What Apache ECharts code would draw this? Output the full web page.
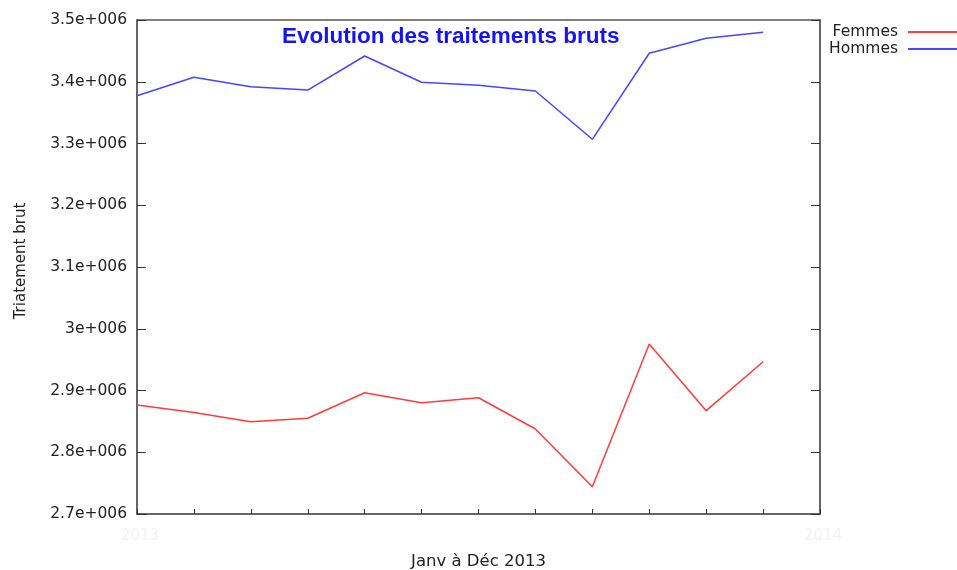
<!DOCTYPE html>
<html>
<head>
<meta charset="utf-8">
<title>Evolution des traitements bruts</title>
<script src="https://cdn.jsdelivr.net/npm/echarts@6/dist/echarts.min.js"></script>
<style>
  html, body { margin: 0; padding: 0; background: #fff; }
  #chart { width: 957px; height: 570px; }
</style>
</head>
<body>
<div id="chart"></div>
<script>
// mois de l'année (axe x), une case de plus pour fermer le cadre
const months = ['Janv', 'Févr', 'Mars', 'Avr', 'Mai', 'Juin', 'Juil', 'Août', 'Sept', 'Oct', 'Nov', 'Déc']
const edgeLabels = ['2013', '2014']

// traitements bruts
const femmes = [2876500, 2864400, 2849500, 2855000, 2896400, 2880200, 2888300, 2837600, 2744200, 2975300, 2867300, 2946600]
const hommes = [3377400, 3407200, 3392000, 3386600, 3441700, 3399100, 3394200, 3385000, 3306800, 3446100, 3470400, 3480100]

// axe y
const yMin = 2700000
const yMax = 3500000
const yStep = 100000

const categories = months.concat([''])
const font = 'DejaVu Sans, Verdana, sans-serif'

const chart = echarts.init(document.getElementById('chart'))
chart.setOption({
  animation: false,
  /* titre */
  title: {
    text: 'Evolution des traitements bruts',
    left: 282,
    top: 25,
    padding: 0,
    textStyle: {
      color: '#1414f5',
      fontFamily: 'Liberation Sans, Arial, sans-serif',
      fontWeight: 'bold',
      fontSize: 22.5
    }
  },
  /* légende : texte puis trait */
  legend: {
    orient: 'vertical',
    align: 'right',
    right: 0,
    top: 24,
    padding: 0,
    itemGap: 1,
    itemWidth: 49,
    itemHeight: 2,
    icon: 'rect',
    textStyle: { color: '#222', fontFamily: font, fontSize: 15.5, padding: [0, 5, 0, 0] },
    data: ['Femmes', 'Hommes']
  },
  grid: { left: 137, right: 137, top: 20, bottom: 56, outerBoundsMode: 'none' },
  xAxis: [
    {
      type: 'category',
      data: categories,
      boundaryGap: false,
      name: 'Janv à Déc 2013',
      nameLocation: 'middle',
      nameGap: 39,
      nameTextStyle: { color: '#222', fontFamily: font, fontSize: 16.5 },
      axisLine: { lineStyle: { color: '#333', width: 1.5 } },
      axisTick: { inside: true, length: 5, lineStyle: { color: '#333' } },
      axisLabel: {
        interval: 0,
        margin: 15,
        color: '#f2f2f2',
        fontFamily: font,
        fontSize: 15,
        padding: [0, 0, 0, 6],
        formatter: (v, i) => (i === 0 ? edgeLabels[0] : i === categories.length - 1 ? edgeLabels[1] : '')
      },
      splitLine: { show: false }
    },
    {
      type: 'category',
      data: categories,
      boundaryGap: false,
      position: 'top',
      axisLine: { lineStyle: { color: '#555', width: 1.5 } },
      axisTick: { show: false },
      axisLabel: { show: false }
    }
  ],
  yAxis: [
    {
      type: 'value',
      min: yMin,
      max: yMax,
      interval: yStep,
      name: 'Triatement brut',
      nameLocation: 'middle',
      nameGap: 108,
      nameRotate: 90,
      nameTextStyle: { color: '#222', fontFamily: font, fontSize: 15, padding: [0, 0, 0, 12] },
      axisLine: { show: true, lineStyle: { color: '#333', width: 1.5 } },
      axisTick: { show: true, inside: true, length: 9, lineStyle: { color: '#333' } },
      axisLabel: {
        color: '#222',
        fontFamily: font,
        fontSize: 15.5,
        margin: 10,
        lineHeight: 18,
        padding: [6, 0, 0, 0],
        formatter: v => Number((v / 1e6).toFixed(1)) + 'e+006'
      },
      splitLine: { show: false }
    },
    {
      type: 'value',
      min: yMin,
      max: yMax,
      interval: yStep,
      position: 'right',
      axisLine: { show: true, lineStyle: { color: '#333', width: 1.5 } },
      axisTick: { show: true, inside: true, length: 9, lineStyle: { color: '#333' } },
      axisLabel: { show: false },
      splitLine: { show: false }
    }
  ],
  series: [
    {
      name: 'Femmes',
      type: 'line',
      data: femmes,
      color: '#ff3c3c',
      showSymbol: false,
      lineStyle: { width: 1.5 }
    },
    {
      name: 'Hommes',
      type: 'line',
      data: hommes,
      color: '#4646ff',
      showSymbol: false,
      lineStyle: { width: 1.5 }
    }
  ]
})
</script>
</body>
</html>
